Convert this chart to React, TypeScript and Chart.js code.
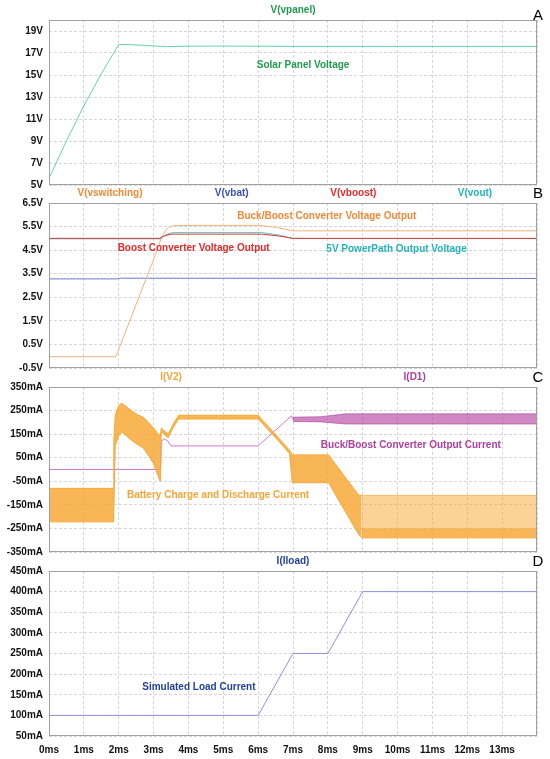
import React, { useEffect, useRef } from 'react';
import { Chart, registerables } from 'chart.js';
Chart.register(...registerables);

const FONT = '"Liberation Sans", Arial, sans-serif';

// ---- shared x axis (ms) ----
const xTickValues = [0, 1, 2, 3, 4, 5, 6, 7, 8, 9, 10, 11, 12, 13, 14];

// ---- Pane A: V(vpanel) ----
const vpanelT = [0, 0.5, 1.0, 1.5, 2.0, 2.3, 2.7, 3.1, 3.4, 4.0, 5.0, 7.0, 10.0, 14.0];
const vpanelV = [5.6, 9.0, 12.2, 15.1, 17.78, 17.76, 17.7, 17.62, 17.58, 17.62, 17.63, 17.6, 17.6, 17.6];
const paneATicks = [5, 7, 9, 11, 13, 15, 17, 19];

// ---- Pane B: voltages ----
const vswT = [0, 1.92, 2.5, 3.0, 3.23, 3.35, 3.45, 3.6, 4.0, 6.05, 6.5, 7.0, 14];
const vswV = [-0.02, -0.02, 2.2, 4.1, 5.05, 5.35, 5.48, 5.54, 5.55, 5.55, 5.47, 5.32, 5.32];
const vbatT = [0, 1.95, 2.05, 14];
const vbatV = [3.28, 3.28, 3.31, 3.3];
const vboostT = [0, 3.18, 3.3, 3.5, 6.1, 6.6, 7.0, 14];
const vboostV = [5.0, 5.0, 5.1, 5.18, 5.18, 5.1, 5.0, 5.0];
const voutT = [0, 3.2, 3.35, 3.55, 6.1, 6.6, 7.0, 14];
const voutV = [4.98, 4.98, 5.15, 5.25, 5.25, 5.14, 4.99, 4.99];
const paneBTicks = [-0.5, 0.5, 1.5, 2.5, 3.5, 4.5, 5.5, 6.5];

// ---- Pane C: currents (mA) ----
const iv2T = [0, 1.85, 1.86, 1.9, 1.99, 2.08, 2.4, 2.55, 2.7, 2.85, 3.0, 3.18, 3.2, 3.22, 3.42, 3.55, 3.72, 6.0, 6.48, 6.9, 6.98, 7.0, 8.02, 8.88, 8.97];
const iv2Upper = [-80, -80, 120, 230, 268, 282, 246, 232, 222, 200, 175, 141, 141, 176, 150, 190, 230, 230, 152, 82, 62, 62, 62, -108, -110];
const iv2Lower = [-222, -222, -222, 100, 140, 160, 120, 105, 92, 60, 25, -48, -48, 160, 135, 175, 214, 214, 138, 68, -56, -56, -56, -275, -290];
const iv2TailT = [8.97, 14];
const iv2TailTop = [-110, -110];
const iv2TailDenseTop = [-252, -252];
const iv2TailBottom = [-290, -290];
const id1T = [0, 3.2, 3.22, 3.3, 3.4, 3.5, 6.0, 6.96, 7.0];
const id1V = [0, 0, 118, 130, 122, 100, 100, 228, 212];
const id1BandT = [7.0, 7.8, 8.5, 14];
const id1BandUpper = [222, 224, 236, 236];
const id1BandLower = [204, 202, 193, 193];
const paneCTicks = [-350, -250, -150, -50, 50, 150, 250, 350];

// ---- Pane D: I(Iload) (mA) ----
const iloadT = [0, 6, 7, 8, 9, 14];
const iloadV = [100, 100, 250, 250, 400, 400];
const paneDTicks = [50, 100, 150, 200, 250, 300, 350, 400, 450];

// ---- trace names (x in ms) ----
const titlesA = [{ text: 'V(vpanel)', x: 7.0, color: '#1f9a4f' }];
const titlesB = [
  { text: 'V(vswitching)', x: 1.75, color: '#f08a38' },
  { text: 'V(vbat)', x: 5.24, color: '#3a50c0' },
  { text: 'V(vboost)', x: 8.73, color: '#e52a2a' },
  { text: 'V(vout)', x: 12.22, color: '#22b4bc' },
];
const titlesC = [
  { text: 'I(V2)', x: 3.5, color: '#f5a63a' },
  { text: 'I(D1)', x: 10.49, color: '#b0409e' },
];
const titlesD = [{ text: 'I(Iload)', x: 7.0, color: '#24409e' }];

// ---- annotations (x in ms, y in axis units) ----
const notesA = [{ text: 'Solar Panel Voltage', x: 7.29, y: 15.86, color: '#1f9a4f' }];
const notesB = [
  { text: 'Buck/Boost Converter Voltage Output', x: 7.97, y: 5.93, color: '#f08a38' },
  { text: 'Boost Converter Voltage Output', x: 4.15, y: 4.585, color: '#e52a2a' },
  { text: '5V PowerPath Output Voltage', x: 9.97, y: 4.53, color: '#22b4bc' },
];
const notesC = [
  { text: 'Battery Charge and Discharge Current', x: 4.85, y: -108, color: '#f7a535' },
  { text: 'Buck/Boost Converter Output Current', x: 10.38, y: 101, color: '#b0409e' },
];
const notesD = [{ text: 'Simulated Load Current', x: 4.3, y: 169, color: '#24409e' }];

const pts = (t: number[], v: number[]) => t.map((x, i) => ({ x, y: v[i] }));

const line = (data: any, color: string, extra: any = {}) => ({
  data,
  borderColor: color,
  backgroundColor: color,
  borderWidth: 1,
  pointRadius: 0,
  tension: 0,
  fill: false,
  ...extra,
});

const ORANGE_FILL = 'rgba(247,166,50,0.82)';
const ORANGE_LINE = 'rgba(247,166,50,0.95)';
const GRID = '#d6d6d6';

const panes = [
  {
    top: 20, bottom: 185, min: 5, max: 20, ticks: paneATicks, fmt: (v: number) => v + 'V',
    letter: 'A', letterDy: -4, titles: titlesA, notes: notesA, showX: false,
    datasets: [line(pts(vpanelT, vpanelV), '#66d4a6')],
  },
  {
    top: 203, bottom: 368, min: -0.5, max: 6.5, ticks: paneBTicks, fmt: (v: number) => v.toFixed(1) + 'V',
    letter: 'B', letterDy: -9.5, titles: titlesB, notes: notesB, showX: false,
    datasets: [
      line(pts(vboostT, vboostV), '#d83434'),
      line(pts(voutT, voutV), '#5ccacc'),
      line(pts(vswT, vswV), '#f8b078'),
      line(pts(vbatT, vbatV), '#6a78d0'),
    ],
  },
  {
    top: 387, bottom: 552, min: -350, max: 350, ticks: paneCTicks, fmt: (v: number) => v + 'mA',
    letter: 'C', letterDy: -9.5, titles: titlesC, notes: notesC, showX: false,
    datasets: [
      line(pts(iv2T, iv2Upper), ORANGE_LINE, { fill: '+1', backgroundColor: ORANGE_FILL }),
      line(pts(iv2T, iv2Lower), ORANGE_LINE),
      line(pts(iv2TailT, iv2TailTop), 'rgba(247,166,50,0.7)', { fill: '+1', backgroundColor: 'rgba(247,166,50,0.5)' }),
      line(pts(iv2TailT, iv2TailDenseTop), 'rgba(247,166,50,0.5)', { fill: '+1', backgroundColor: ORANGE_FILL }),
      line(pts(iv2TailT, iv2TailBottom), ORANGE_LINE),
      line(pts(id1BandT, id1BandUpper), 'rgba(176,64,158,0.6)', { fill: '+1', backgroundColor: 'rgba(176,64,158,0.62)' }),
      line(pts(id1BandT, id1BandLower), 'rgba(176,64,158,0.6)'),
      line(pts(id1T, id1V), '#d27ac8'),
    ],
  },
  {
    top: 571, bottom: 736, min: 50, max: 450, ticks: paneDTicks, fmt: (v: number) => v + 'mA',
    letter: 'D', letterDy: -9.5, titles: titlesD, notes: notesD, showX: true,
    datasets: [line(pts(iloadT, iloadV), '#8e8ee6')],
  },
];

const makeOverlay = (p: any) => ({
  id: 'overlay',
  afterDraw(chart: any) {
    const { ctx, chartArea: ca, scales } = chart;
    ctx.save();
    ctx.strokeStyle = '#a0a0a0';
    ctx.lineWidth = 1;
    ctx.strokeRect(Math.round(ca.left) + 0.5, Math.round(ca.top) + 0.5, Math.round(ca.right - ca.left) - 1, Math.round(ca.bottom - ca.top) - 1);
    ctx.textAlign = 'center';
    ctx.textBaseline = 'middle';
    ctx.font = `bold 10px ${FONT}`;
    for (const t of p.titles) {
      ctx.fillStyle = t.color;
      ctx.fillText(t.text, scales.x.getPixelForValue(t.x), ca.top - 10);
    }
    for (const n of p.notes) {
      ctx.fillStyle = n.color;
      ctx.fillText(n.text, scales.x.getPixelForValue(n.x), scales.y.getPixelForValue(n.y));
    }
    ctx.font = `15px ${FONT}`;
    ctx.fillStyle = '#000';
    ctx.fillText(p.letter, 538, ca.top + p.letterDy);
    ctx.restore();
  },
});

const makeConfig = (p: any): any => ({
  type: 'line',
  data: { datasets: p.datasets },
  options: {
    animation: false,
    responsive: false,
    events: [],
    layout: { padding: { top: p.top, bottom: 759 - p.bottom - (p.showX ? 20 : 0), left: 0, right: 13 } },
    plugins: { legend: { display: false }, tooltip: { enabled: false }, title: { display: false } },
    scales: {
      x: {
        type: 'linear', min: 0, max: 14,
        afterBuildTicks: (s: any) => { s.ticks = xTickValues.map((v) => ({ value: v })); },
        afterFit: (s: any) => { s.height = p.showX ? 20 : 0; },
        grid: { color: GRID, drawTicks: false },
        border: { display: false, dash: [3, 2] },
        ticks: {
          display: p.showX, padding: 8, autoSkip: false, maxRotation: 0,
          color: '#111', font: { family: FONT, size: 10, weight: 'bold' },
          callback: (v: number) => (v === 14 ? '' : v + 'ms'),
        },
      },
      y: {
        type: 'linear', min: p.min, max: p.max,
        afterBuildTicks: (s: any) => { s.ticks = p.ticks.map((v: number) => ({ value: v })); },
        afterFit: (s: any) => { s.width = 49; },
        grid: { color: GRID, drawTicks: false },
        border: { display: false, dash: [3, 2] },
        ticks: {
          padding: 6, autoSkip: false,
          color: '#111', font: { family: FONT, size: 10, weight: 'bold' },
          callback: (v: number) => p.fmt(v),
        },
      },
    },
  },
  plugins: [makeOverlay(p)],
});

export default function App() {
  const canvases = useRef<(HTMLCanvasElement | null)[]>([]);
  useEffect(() => {
    const charts = panes.map((p, i) => new Chart(canvases.current[i] as HTMLCanvasElement, makeConfig(p)));
    return () => charts.forEach((c) => c.destroy());
  }, []);
  return (
    <div style={{ position: 'absolute', left: 0, top: 0, width: 550, height: 759, background: '#fff' }}>
      {panes.map((_, i) => (
        <canvas
          key={i}
          ref={(el) => { canvases.current[i] = el; }}
          width={550}
          height={759}
          style={{ position: 'absolute', left: 0, top: 0, width: 550, height: 759 }}
        />
      ))}
    </div>
  );
}
